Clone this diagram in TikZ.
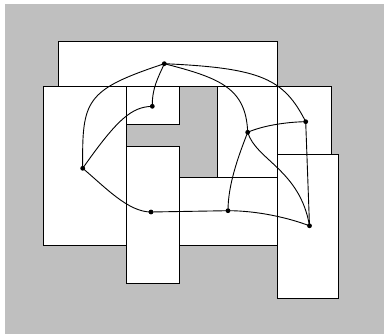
\documentclass[tikz,border=0pt]{standalone}
\begin{document}
\begin{tikzpicture}[x=1pt,y=-1pt,
  room/.style={draw=black,fill=white,line width=1pt},
  vtx/.style={circle,fill=black,inner sep=0pt,minimum size=4.8pt},
  link/.style={draw=black,line width=0.9pt}]
\useasboundingbox (0,0) rectangle (384,334);
\fill[white] (0,0) rectangle (384,334);
\fill[black!25] (4.7,4) rectangle (384,334);
% rooms
\draw[room] (58.3,41.3) rectangle (277.7,86.7);
\draw[room] (43.3,86.7) rectangle (126.7,245.3);
\draw[room] (126.7,86.7) rectangle (179.3,124.3);
\draw[room] (126.7,147) rectangle (179.3,283.3);
\draw[room] (179.3,177.3) rectangle (277.7,245.3);
\draw[room] (217.3,86.7) rectangle (277.7,177.3);
\draw[room] (277.7,86.7) rectangle (331,154.3);
\draw[room] (277.7,154.3) rectangle (338.3,298.3);
% vertices
\node[vtx] (A) at (164.3,63.7) {};
\node[vtx] (B) at (152.3,106.3) {};
\node[vtx] (C) at (82.7,168.3) {};
\node[vtx] (D) at (151,212) {};
\node[vtx] (E) at (228,210.7) {};
\node[vtx] (F) at (247.7,132.3) {};
\node[vtx] (G) at (305.7,121.7) {};
\node[vtx] (H) at (309.5,225.8) {};
% edges
\draw[link] (A.center) .. controls (85,90) and (82,100) .. (C.center);
\draw[link] (A.center) .. controls (158,78) and (152,88) .. (B.center);
\draw[link] (B.center) .. controls (132,107) and (118,118) .. (C.center);
\draw[link] (C.center) .. controls (105,187) and (128,212) .. (D.center);
\draw[link] (D.center) -- (E.center);
\draw[link] (E.center) .. controls (258,210.7) and (289,218) .. (H.center);
\draw[link] (E.center) .. controls (228,185) and (238,157) .. (F.center);
\draw[link] (F.center) .. controls (262,126) and (285,122) .. (G.center);
\draw[link] (F.center) .. controls (256,160) and (300,170) .. (H.center);
\draw[link] (G.center) -- (H.center);
\draw[link] (A.center) .. controls (220,78) and (246,88) .. (F.center);
\draw[link] (A.center) .. controls (262,68) and (284,79) .. (G.center);
\end{tikzpicture}
\end{document}
